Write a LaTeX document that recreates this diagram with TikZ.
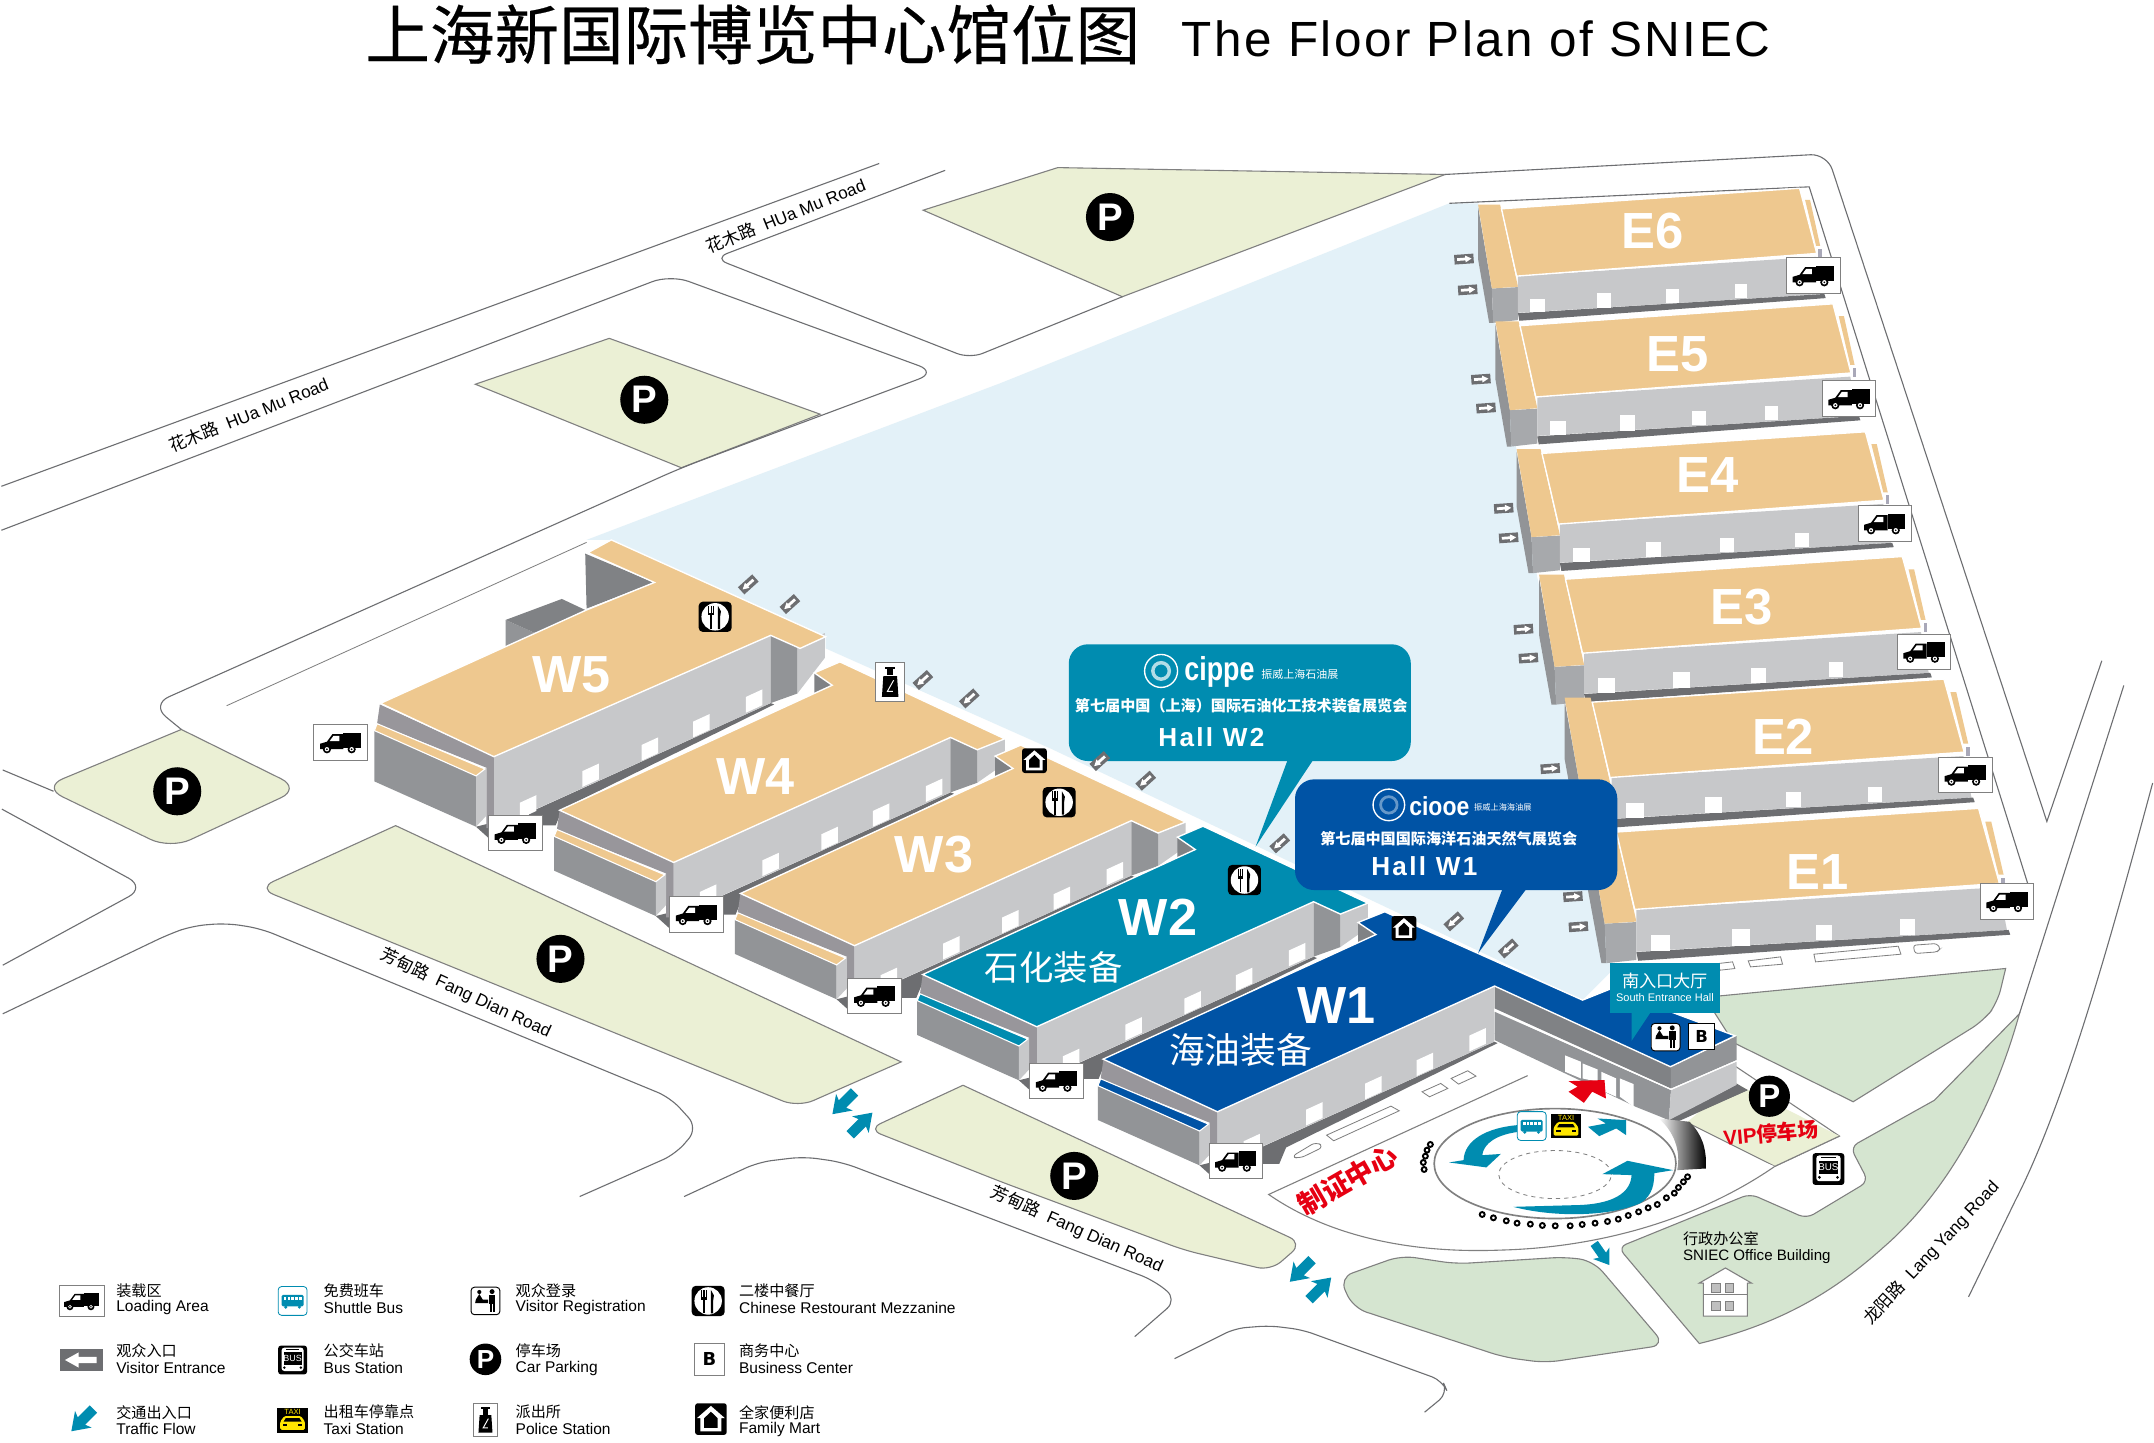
\documentclass[tikz,border=0pt]{standalone}
\usepackage{fontspec}
\usepackage{xcolor}
\usetikzlibrary{positioning, shapes.geometric, calc}
\setmainfont{Liberation Sans}
\newfontfamily\cjk{Noto Sans CJK SC}
\newfontfamily\cjktitle[FakeBold=.35]{Noto Sans CJK SC}
\newfontfamily\heavy{DejaVu Sans}
\newfontfamily\spaced[LetterSpace=5]{Liberation Sans}
\newfontfamily\hallspaced[LetterSpace=9]{Liberation Sans}
\newcommand{\fsz}[1]{\fontsize{#1}{#1}\selectfont}

\definecolor{roofsand}{HTML}{EEC88F}
\definecolor{wallgray}{HTML}{C7C8CA}
\definecolor{walldark}{HTML}{929497}
\definecolor{bandgray}{HTML}{98969B}
\definecolor{endgray}{HTML}{A7A9AC}
\definecolor{tickgray}{HTML}{A9A8B8}
\definecolor{notchgray}{HTML}{808285}
\definecolor{shadowgray}{HTML}{6D6E71}
\definecolor{courtblue}{HTML}{E3F1F8}
\definecolor{parkgreen}{HTML}{EBF0D5}
\definecolor{lawngreen}{HTML}{D5E5D0}
\definecolor{hallteal}{HTML}{008CB0}
\definecolor{hallblue}{HTML}{0053A5}
\definecolor{roadgray}{HTML}{6D6E71}
\definecolor{signred}{HTML}{E60012}
\definecolor{taxiyellow}{HTML}{FFE600}

\tikzset{
    roadline/.style={draw=roadgray, line width=.8pt},
    parkarea/.style={fill=parkgreen, draw=gray, line width=.8pt},
    lawnarea/.style={fill=lawngreen, draw=gray, line width=.8pt},
    roofline/.style={draw=white, line width=1pt},
    slotline/.style={draw=gray, fill=white, line width=.6pt},
    truckbox/.style={draw=gray, fill=white, line width=.6pt, minimum width=39pt, minimum height=26pt},
    pmark/.style={circle, fill=black, text=white, font=\bfseries\fsz{28}},
    halllabel/.style={text=white, font=\bfseries\fsz{38}},
    roadlabel/.style={font=\fsz{12.5}},
    zthree/.style={shift={(873.6,691.6)}, x=.302pt, y=-.2427pt},
    zten/.style={shift={(1201,415)}, x=.2427pt, y=-.2427pt},
    truckglyph/.pic={
        \fill (2,-7) rectangle (15,4);
        \fill (-15,1) -- (-10,-.5) -- (-6,-6) -- (2,-6) -- (2,5) -- (-15,5) -- cycle;
        \fill[white] (-5.2,-4.8) -- (-1,-4.8) -- (-1,-1) -- (-8,-1) -- cycle;
        \foreach \wx in {-10,8} {
            \fill[black] (\wx,5) circle[radius=3pt];
            \fill[white] (\wx,5) circle[radius=1.6pt];
            \fill[black] (\wx,5) circle[radius=.7pt];
        }
    },
    restglyph/.pic={
        \fill[black, rounded corners=3pt] (-12,-11) rectangle (12,11);
        \fill[white] (0,0) circle[radius=10pt];
        \fill[black] (-5,-8) rectangle (-4.2,-2);
        \fill[black] (-3.4,-8) rectangle (-2.6,-2);
        \fill[black] (-1.8,-8) rectangle (-1,-2);
        \fill[black] (-5,-3) rectangle (-1,-1);
        \fill[black] (-3.6,-2) rectangle (-2.4,9);
        \fill[black] (2,-8) -- (4.2,-4) -- (3.6,0) -- (3.6,9) -- (2,9) -- cycle;
    },
    homeglyph/.pic={
        \fill[black, rounded corners=2pt] (-9,-9) rectangle (9,9);
        \fill[white] (0,-7.5) -- (8,-.5) -- (6,-.5) -- (6,7) -- (-6,7) -- (-6,-.5) -- (-8,-.5) -- cycle;
        \fill[black] (-3.8,-.5) -- (0,-4.2) -- (3.8,-.5) -- (3.8,5) -- (-3.8,5) -- cycle;
    },
    policeglyph/.pic={
        \filldraw[fill=white, draw=gray, line width=.6pt] (-10.5,-14.3) rectangle (10.5,14.3);
        \fill[black] (-3.5,-11) rectangle (3.5,-9.5);
        \fill[black] (-2.4,-9) rectangle (2.4,-4.5);
        \fill[black] (-5,-4) -- (5,-4) -- (6,11) -- (-6,11) -- cycle;
        \draw[white, line width=.7pt] (2.5,-1) -- (-2,7) -- (2,7);
    },
    regglyph/.pic={
        \filldraw[fill=white, draw=black, line width=.7pt, rounded corners=2.5pt] (-10.5,-10) rectangle (10.5,10);
        \fill[black] (-7,-1) -- (-4.5,-5) -- (-2,-1) -- (2,-1) -- (2,1.5) -- (-7.5,1.5) -- cycle;
        \fill[black] (-4.5,-6.5) circle[radius=1.5pt];
        \fill[black] (4.8,-6.8) circle[radius=1.8pt];
        \fill[black] (2.5,-4.5) rectangle (7.2,2);
        \fill[black] (3,2) rectangle (4.6,8);
        \fill[black] (5.2,2) rectangle (6.8,8);
    },
    busglyph/.pic={
        \fill[black, rounded corners=2pt] (-10.5,-10.5) rectangle (10.5,10.5);
        \fill[white, rounded corners=2pt] (-8,-9) rectangle (8,8);
        \fill[black] (-6.5,-5.5) rectangle (6.5,3.5);
        \fill[black] (-5,-8) rectangle (5,-7);
        \node[text=white, font=\fsz{6.5}, transform shape] (busword) at (0,-1) {BUS};
        \fill[black] (-6,5.5) circle[radius=1pt];
        \fill[black] (6,5.5) circle[radius=1pt];
    },
    shuttleglyph/.pic={
        \filldraw[fill=white, draw=hallteal, line width=.6pt, rounded corners=2.5pt] (-10.5,-10.5) rectangle (10.5,10.5);
        \fill[hallteal, rounded corners=1pt] (-8,-4.5) rectangle (8,4);
        \foreach \wx in {-6.5,-3.7,-.9,1.9,4.7} {
            \fill[white] (\wx,-3.2) rectangle ++(2,2.4);
        }
        \fill[hallteal] (-5,4.5) circle[radius=1.2pt];
        \fill[hallteal] (5,4.5) circle[radius=1.2pt];
    },
    taxiglyph/.pic={
        \fill[black] (-11,-9) rectangle (11,9);
        \node[text=taxiyellow, font=\fsz{5.5}, transform shape] (taxiword) at (0,-5.8) {TAXI};
        \fill[taxiyellow, rounded corners=1pt] (-9,7) -- (-9,1) -- (-6,-3) -- (6,-3) -- (9,1) -- (9,7) -- cycle;
        \fill[black] (-5,-1.5) -- (5,-1.5) -- (6.5,1) -- (-6.5,1) -- cycle;
        \fill[black] (-7,3) rectangle (-4,4.5);
        \fill[black] (4,3) rectangle (7,4.5);
    },
    gatearrow/.pic={
        \fill[shadowgray] (-7,-3.5) rectangle (7,3.5);
        \fill[white] (-5,-1) -- (1,-1) -- (1,-2.5) -- (5.5,0) -- (1,2.5) -- (1,1) -- (-5,1) -- cycle;
    },
    trafficarrow/.pic={
        \fill[hallteal] (-12,-4) -- (1,-4) -- (-1,-9) -- (12,0) -- (-1,9) -- (1,4) -- (-12,4) -- cycle;
    },
}

% one east hall, drawn in the frame of E6
\newcommand{\easthall}[4]{
    \begin{scope}[shift={(#1,#2)}, xscale=#3, yscale=#4]
        \fill[walldark] (-28,-50) -- (-18,9) -- (-17,34) -- (-20,34) -- (-28,-12) -- cycle;
        \fill[endgray] (-18,9) -- (1,8) -- (1,32) -- (-17,34) -- cycle;
        \fill[roofsand] (-28,-52) -- (-12,-52) -- (1,7.7) -- (-18,9) -- cycle;
        \fill[wallgray] (1,0) -- (218,-14) -- (223,13) -- (1,26.7) -- cycle;
        \fill[shadowgray] (1,27) -- (224,13) -- (225,16) -- (2,32.5) -- cycle;
        \fill[white] (10,16.5) rectangle (21,26.3);
        \fill[white] (58.5,12.6) rectangle (69,23);
        \fill[white] (108.5,9.7) rectangle (118,19.4);
        \fill[white] (159,6) rectangle (168,16);
        \filldraw[fill=roofsand, roofline] (-11,-49) -- (206,-64) -- (218.5,-16.5) -- (0,0) -- cycle;
        \fill[roofsand] (210,-55.5) -- (213.6,-55.5) -- (221,-22) -- (218,-22) -- cycle;
        \fill[tickgray] (219.7,-20) rectangle (222,-14);
    \end{scope}
}

% front and long side of a west hall; S corner at #1,#2, wall height #3, strip colour #4
\newcommand{\westfront}[4]{
    \begin{scope}[shift={(#1,#2)}]
        \fill[shadowgray] (25,#3-11) -- (201.5,-91+#3) -- (204,-90+#3) -- (50,#3-14) -- (45,#3-2) -- (30,#3-2) -- cycle;
        \fill[shadowgray] (-13,#3-1) -- (-5,#3-3) -- (0,#3-6) -- (26,#3-8) -- (30,#3-2) -- (10,#3+8) -- (-3,#3+8) -- cycle;
        \fill[wallgray] (0,0) -- (201.5,-91) -- (201.5,-91+#3) -- (0,#3) -- cycle;
        \foreach \dx/\dy in {25/-14, 70.5/-37, 113.5/-56, 151/-73, 189.5/-91} {
            \fill[white] (\dx-6,\dy+#3+7) -- (\dx+6,\dy+#3+1.5) -- (\dx+6,\dy+#3-10) -- (\dx-6,\dy+#3-4.5) -- cycle;
        }
        \fill[bandgray] (-83,-38) -- (0,0) -- (0,#3) -- (-5.5,#3) -- (-5.5,8) -- (-85,-24) -- cycle;
        \fill[walldark] (-87,-19) -- (-13,14) -- (-13,#3-1) -- (-87,#3-34) -- cycle;
        \fill[wallgray] (-13,14) -- (-5.5,8) -- (-5.5,#3-9) -- (-13,#3-1) -- cycle;
        \filldraw[fill=#4, draw=white, line width=.8pt] (-85,-24) -- (-6.5,9) -- (-13,14) -- (-87,-19) -- cycle;
    \end{scope}
}

% back end of a west hall, with its stepped wing
\newcommand{\westback}[3]{
    \begin{scope}[shift={(#1,#2)}]
        \fill[wallgray] (221,-82) -- (241,-90) -- (241,-72) -- (221,-98+#3) -- cycle;
        \fill[walldark] (201.5,-91) -- (221,-82) -- (221,-98+#3) -- (201.5,-91+#3) -- cycle;
    \end{scope}
}

% standard roof with the small notch at its north end
\newcommand{\westroof}[3]{
    \begin{scope}[shift={(#1,#2)}]
        \fill[notchgray] (102.4,-138) -- (115.4,-129) -- (102.4,-122) -- cycle;
        \filldraw[fill=#3, roofline] (0,0) -- (201.5,-91) -- (221,-82) -- (241,-90) -- (121,-146) -- (102.4,-138) -- (115.4,-129) -- (-83,-38) -- cycle;
    \end{scope}
}

\newcommand{\truckat}[3]{
    \node[truckbox] (#1) at (#2,#3) {};
    \pic at (#1) {truckglyph};
}

\newcommand{\legendtext}[5]{
    \node[anchor=west, font=\cjk\fsz{11}] (#1cn) at (#2,#3) {#4};
    \node[anchor=west, font=\fsz{11.3}] (#1en) at (#2,#3+12.5) {#5};
}

\begin{document}
\begin{tikzpicture}[x=1pt, y=-1pt, every node/.style={inner sep=0pt}]
    \useasboundingbox (0,0) rectangle (1568,1050.4);
    \fill[white] (0,0) rectangle (1568,1050.4);

    % title
    \node[font=\cjktitle\fsz{47}] (titlecn) at (548,25) {上海新国际博览中心馆位图};
    \node[anchor=west, font=\spaced\fsz{36}] (titleen) at (860,28) {The Floor Plan of SNIEC};

    % courtyard
    \fill[courtblue] (445,393) -- (427,393) -- (469,377) -- (728,279) -- (1055,148) -- (1076,148) -- (1088,235) -- (1104,328) -- (1119,420) -- (1139,515) -- (1162,605) -- (1175,705) -- (1152,728) -- (765,545) -- (601,472) -- (601,463) -- cycle;

    % lawns and parking
    \filldraw[parkarea] (672,153) -- (770,122) -- (1052,127) -- (817,216) -- cycle;
    \filldraw[parkarea] (443.5,246.3) -- (597,301.5) -- (496,340.5) -- (346,279.7) -- cycle;
    \filldraw[parkarea] (132,531) [rounded corners=16pt] -- (219,574) -- (124,618) -- (31,573) [sharp corners] -- cycle;
    \filldraw[parkarea] (288,601) -- (656,773) [rounded corners=12pt] -- (581,806) -- (188,646.6) [sharp corners] -- cycle;
    \filldraw[parkarea] (701,790) [rounded corners=10pt] -- (948,905) -- (925,925) -- (862,910) -- (728,860) -- (632,822) [sharp corners] -- cycle;
    \filldraw[lawnarea, rounded corners=10pt] (1060,920) -- (1020,914) -- (975,930) -- (985,952) -- (1095,988) -- (1125,992) -- (1212,979) -- (1160,918) -- (1140,915) -- cycle;
    \filldraw[lawnarea] (1241,726) -- (1460,705) [rounded corners=10pt] -- (1454,730) -- (1444,743) [sharp corners] -- (1349,802) -- (1262,759) -- cycle;
    \filldraw[lawnarea] (1470,738) .. controls (1450,810) and (1415,870) .. (1371,908) .. controls (1330,945) and (1290,965) .. (1237,978) [rounded corners=6pt] -- (1178,908) -- (1274,869) -- (1315,887) -- (1360,860) -- (1347,835) [sharp corners] -- (1408,801) -- cycle;

    % roads
    \draw[roadline] (1,354) -- (640,119);
    \draw[roadline, rounded corners=14pt] (1,386) -- (488,200) -- (682,271) -- (496,340.5) -- (110,513) -- (132,531);
    \draw[roadline, rounded corners=10pt] (688,124) -- (520,188) -- (706,261) -- (817,216);
    \draw[gray, line width=.6pt] (165,513.7) -- (427,394.8);
    \draw[roadline] (2,560.5) -- (39,576);
    \draw[roadline, rounded corners=14pt] (1.4,589) -- (106,646) -- (2,702.6);
    \draw[roadline, rounded corners=10pt] (2,738) -- (123,680) -- (140,674) -- (165,672) -- (190,676) -- (488,799) -- (508,821) -- (492,840) -- (422,871);
    \draw[roadline, rounded corners=10pt] (498,871) -- (552,846) -- (585,842) -- (613,846) -- (840,932) -- (857,946) -- (826,973);
    \draw[roadline, rounded corners=8pt] (855,989) -- (899,967) -- (924,965) -- (948,968) -- (1050,1005) -- (1054,1014) -- (1037,1028);
    \draw[roadline] (1052,127) [rounded corners=12pt] -- (1330,112) [sharp corners] -- (1490,598) -- (1530,481);
    \draw[roadline] (1055,148) -- (1317,136) -- (1476,643);
    \draw[roadline] (1546,499) -- (1470,738);
    \draw[roadline] (1567,570) .. controls (1540,670) and (1505,800) .. (1467,874) -- (1433,944);
    \draw[gray, line width=.8pt] (1263,776) -- (1339,827) -- (1292,849);

    % VIP parking and plaza
    \fill[parkgreen] (1228,817) -- (1262,788) -- (1339,827) -- (1292,849) -- cycle;
    \draw[gray, line width=.8pt] (1339,827) -- (1292,849) -- (1228,817);
    \filldraw[fill=white, draw=gray, line width=.8pt] (1112,783) -- (923.5,869.5) .. controls (975,905) and (1040,912) .. (1092,910) .. controls (1170,908) and (1240,885) .. (1292,849);

    % west halls
    \fill[notchgray] (426,403) -- (476,424) -- (427,443) -- cycle;
    \fill[walldark] (368,451.3) -- (390,461) -- (368,470.7) -- cycle;
    \fill[notchgray] (368,451.3) -- (409,436) -- (426,444) -- (390,461) -- cycle;
    \westfront{359.5}{550.8}{52}{roofsand}
    \westback{359.5}{550.8}{52}
    \filldraw[fill=roofsand, roofline] (277,512) -- (359.5,550.8) -- (561,462.5) -- (582.4,472) -- (601,463.5) -- (445,393) -- (428,402.3) -- (476.4,424) -- (427,444) -- cycle;
    \westfront{490.4}{627.8}{40}{roofsand}
    \westback{490.4}{627.8}{40}
    \westroof{490.4}{627.8}{roofsand}
    \westfront{622}{688.4}{40}{roofsand}
    \westback{622}{688.4}{40}
    \westroof{622}{688.4}{roofsand}
    \westfront{754.7}{747.4}{40}{hallteal}
    \westback{754.7}{747.4}{40}
    \westroof{754.7}{747.4}{hallteal}
    \westfront{886.2}{809.3}{40}{hallblue}
    \fill[notchgray] (988.6,671.3) -- (1001.6,680.3) -- (988.6,687.3) -- cycle;

    % south entrance building
    \begin{scope}[zthree]
        \fill[shadowgray] (745,270) -- (1130,510) -- (1145,518) -- (1320,420) -- (1293,400) -- (1135,500) -- (710,250) -- cycle;
        \fill[walldark] (710,185) -- (1135,420) -- (1130,510) -- (1050,470) -- (710,270) -- cycle;
        \fill[notchgray] (710,108) -- (1135,350) -- (1135,415) -- (710,175) -- cycle;
        \draw[white, line width=.8pt] (710,180) -- (1135,418);
        \fill[walldark] (1135,350) -- (1293,258) -- (1293,330) -- (1135,415) -- cycle;
        \fill[wallgray] (1135,420) -- (1293,335) -- (1293,405) -- (1130,510) -- cycle;
        \draw[white, line width=.8pt] (1135,418) -- (1293,332);
        \fill[white] (880,316) -- (918,335) -- (918,385) -- (880,365) -- cycle;
        \fill[white] (922,340) -- (958,358) -- (958,395) -- (922,385) -- cycle;
        \fill[white] (967,365) -- (1003,385) -- (1003,440) -- (967,420) -- cycle;
        \fill[white] (1012,385) -- (1045,402) -- (1045,470) -- (1012,440) -- cycle;
        \fill[shadowgray] (1130,515) -- (1293,405) -- (1320,420) -- (1145,515) -- cycle;
        \shade[left color=white, right color=black] (1105,505) -- (1180,515) .. controls (1210,555) and (1220,590) .. (1220,655) -- (1150,660) .. controls (1160,600) and (1140,540) .. (1105,505) -- cycle;
    \end{scope}
    \filldraw[fill=hallblue, roofline] (886.2,809.3) -- (803,771) -- (1001.6,680.3) -- (988.6,671.5) -- (1008,663.7) -- (1152,728) -- (1172,720) -- (1263,754) -- (1216,776.5) -- (1088,717.8) -- cycle;

    % east halls
    \easthall{1104}{201}{1}{1}
    \easthall{1118}{289}{1.05}{1.06}
    \easthall{1134.4}{381.5}{1.085}{1.05}
    \easthall{1152}{475.5}{1.13}{1.1}
    \easthall{1172}{566}{1.18}{1.12}
    \easthall{1190}{662}{1.215}{1.15}

    % plaza slots
    \begin{scope}[zthree]
        \draw[slotline, rounded corners=4pt] (220,620) -- (280,575) -- (298,590) -- (240,625) -- cycle;
        \draw[slotline] (305,555) -- (460,468) -- (480,482) -- (322,572) -- cycle;
        \draw[slotline] (535,425) -- (580,400) -- (597,415) -- (553,440) -- cycle;
        \draw[slotline] (605,385) -- (645,362) -- (665,378) -- (623,402) -- cycle;
    \end{scope}
    \begin{scope}[zten]
        \draw[slotline] (205,1180) -- (248,1175) -- (255,1195) -- (210,1200) -- cycle;
        \draw[slotline] (295,1172) -- (392,1160) -- (398,1182) -- (302,1190) -- cycle;
        \draw[slotline] (492,1152) -- (745,1128) -- (753,1152) -- (497,1175) -- cycle;
        \draw[slotline, rounded corners=2pt] (790,1125) -- (860,1120) -- (872,1135) -- (862,1145) -- (795,1150) -- cycle;
    \end{scope}

    % roundabout
    \node[ellipse, draw=gray, fill=white, line width=1.2pt, minimum width=176pt, minimum height=80pt] (ringouter) at (1132,847) {};
    \node[ellipse, draw=gray, dashed, line width=.6pt, minimum width=82pt, minimum height=35pt] (ringinner) at (1132,855) {};
    \fill[hallteal] (1101.6,878.5) .. controls (1130,886) and (1170,886) .. (1193.7,876) .. controls (1204,870) and (1204,860) .. (1204.3,854) -- (1217.9,851.8) -- (1184.7,845) -- (1166.5,854.7) -- (1187.7,855.4) .. controls (1187,868) and (1175,877) .. (1145.4,877.3) -- cycle;
    \fill[hallteal] (1104.6,819) .. controls (1082,821) and (1066,830) .. (1065.4,844.5) -- (1054.8,846.2) -- (1082,849.8) -- (1092.5,840) -- (1079,840.9) .. controls (1080,832) and (1090,826) .. (1104.6,824) -- cycle;
    \begin{scope}[zthree]
        \fill[hallteal] (935,530) -- (978,520) -- (958,505) -- (1027,510) -- (1027,555) -- (1003,535) -- (962,558) -- cycle;
    \end{scope}
    \fill[signred] (1141.8,787) -- (1168,786.2) -- (1169,799.6) -- (1159,794.7) -- (1153,802.8) -- (1141.8,794.7) -- (1148.4,791) -- cycle;

    % tyre barriers
    \begin{scope}[zthree]
        \foreach \tx/\ty in {680/793,707/803,738/812,764/819,796/822,825/826,856/827,892/827,921/823,952/819,982/814,1008/807,1032/796,1057/785,1080/773,1102/763,1124/743,1143/729,1153/712,1165/695,1175/680,555/583,547/600,543/618,538/637,540/658} {
            \filldraw[fill=white, draw=black, line width=1.4pt] (\tx,\ty) circle[radius=1.8pt];
        }
    \end{scope}

    % hall names
    \node[halllabel] (labelwfive) at (416,491) {W5};
    \node[halllabel] (labelwfour) at (550,565) {W4};
    \node[halllabel] (labelwthree) at (680,622) {W3};
    \node[halllabel] (labelwtwo) at (843,668) {W2};
    \node[halllabel] (labelwone) at (973,732) {W1};
    \node[halllabel, font=\bfseries\fsz{37}] (labeleesix) at (1203,168) {E6};
    \node[halllabel, font=\bfseries\fsz{37}] (labeleefive) at (1221,258) {E5};
    \node[halllabel, font=\bfseries\fsz{37}] (labeleefour) at (1243,346) {E4};
    \node[halllabel, font=\bfseries\fsz{37}] (labeleethree) at (1268,442) {E3};
    \node[halllabel, font=\bfseries\fsz{37}] (labeleetwo) at (1298,536) {E2};
    \node[halllabel, font=\bfseries\fsz{37}] (labeleeone) at (1323,635) {E1};
    \node[text=white, font=\cjk\fsz{25}] (labelpetro) at (767,704) {石化装备};
    \node[text=white, font=\cjk\fsz{26}] (labeloil) at (903,764) {海油装备};

    % road names
    \node[roadlabel, rotate=22] (huamuwest) at (181,302) {{\cjk 花木路}\ \ HUa Mu Road};
    \node[roadlabel, rotate=22] (huamueast) at (572,157) {{\cjk 花木路}\ \ HUa Mu Road};
    \node[roadlabel, rotate=-25] (fangdianwest) at (339,723) {{\cjk 芳甸路}\ \ Fang Dian Road};
    \node[roadlabel, rotate=-24] (fangdianeast) at (784,895) {{\cjk 芳甸路}\ \ Fang Dian Road};
    \node[roadlabel, rotate=47] (langyang) at (1406,912) {{\cjk 龙阳路}\ \ Lang Yang Road};

    % red signs
    \node[text=signred, rotate=30, font=\cjk\bfseries\fsz{20}] (certcentre) at (981,859) {制证中心};
    \node[text=signred, rotate=5, font=\bfseries\fsz{15}] (vippark) at (1289,825) {VIP{\cjk\bfseries 停车场}};

    % office building
    \node[anchor=west, font=\cjk\fsz{11}] (officecn) at (1225,902) {行政办公室};
    \node[anchor=west, font=\fsz{11}] (officeen) at (1225,915) {SNIEC Office Building};
    \filldraw[fill=white, draw=gray, line width=.8pt] (1240,958) -- (1240,934) -- (1237,934) -- (1256,923) -- (1275,934) -- (1272,934) -- (1272,958) -- cycle;
    \draw[gray, line width=.6pt] (1240,942) -- (1272,942);
    \foreach \wx/\wy in {1246/934,1256/934,1246/947,1256/947} {
        \filldraw[fill=gray!50, draw=gray, line width=.3pt] (\wx,\wy) rectangle ++(6,7);
    }

    % parking marks
    \node[pmark, minimum size=35pt] (parktop) at (808,158) {P};
    \node[pmark, minimum size=35pt] (parkmid) at (469,291) {P};
    \node[pmark, minimum size=35pt] (parkleft) at (129,576) {P};
    \node[pmark, minimum size=35pt] (parkfang) at (408,698) {P};
    \node[pmark, minimum size=35pt] (parklow) at (782,856) {P};
    \node[pmark, minimum size=30pt, font=\bfseries\fsz{24}] (parkvip) at (1288,798) {P};

    % loading areas
    \truckat{truckwfiveside}{248}{540.4}
    \truckat{truckwfive}{375}{606.4}
    \truckat{truckwfour}{507}{665.5}
    \truckat{truckwthree}{636.7}{725}
    \truckat{truckwtwo}{769}{786.8}
    \truckat{truckwone}{899.6}{845}
    \truckat{truckesix}{1320}{200.5}
    \truckat{truckefive}{1346}{290}
    \truckat{truckefour}{1372}{381}
    \truckat{truckethree}{1400.5}{474.5}
    \truckat{truckeetwo}{1430.5}{564}
    \truckat{truckeeone}{1461}{656}

    % east entrances
    \foreach \ax/\ay in {1065.7/188.6,1068.4/211,1078/276,1081.7/297,1094.6/370,1098.2/391.5,1109/458,1112.6/479,1128.5/559.5,1131.5/581,1145/652.7,1149/674.6} {
        \pic[rotate=4] at (\ax,\ay) {gatearrow};
    }

    % traffic arrows
    \pic[rotate=225, scale=.95] at (614,803) {trafficarrow};
    \pic[rotate=45, scale=.95] at (627,818) {trafficarrow};
    \pic[rotate=225, scale=.95] at (947,925) {trafficarrow};
    \pic[rotate=45, scale=.95] at (961,938) {trafficarrow};
    \pic[rotate=-55, scale=.8] at (1166,913) {trafficarrow};

    % facilities
    \pic at (520.6,449) {restglyph};
    \pic at (771,584) {restglyph};
    \pic at (905.9,640.6) {restglyph};
    \pic at (753,553.7) {homeglyph};
    \pic at (1022,675.8) {homeglyph};
    \pic at (648,496.2) {policeglyph};
    \pic at (1212.5,755) {regglyph};
    \node[draw=black, fill=white, line width=.6pt, minimum width=19pt, minimum height=19pt, font=\heavy\bfseries\fsz{12}] (busicentre) at (1238.7,754.5) {B};
    \pic at (1115,819.7) {shuttleglyph};
    \pic at (1140,819.7) {taxiglyph};
    \pic[scale=1.1] at (1331,851) {busglyph};

    % hall W2 callout
    \fill[hallteal] (938.5,550) -- (958,550) -- (914,616.3) -- cycle;
    \node[fill=hallteal, rounded corners=14pt, minimum width=249pt, minimum height=85pt] (calloutwtwo) at (902.5,511.5) {};
    \filldraw[fill=hallteal, draw=white, line width=1pt] (845.2,488.4) circle[radius=12pt];
    \draw[white!70!hallteal, line width=2.5pt] (845.2,488.4) circle[radius=6pt];
    \node[anchor=west, text=white, font=\bfseries\fsz{23}] (cippename) at (862,489) {\scalebox{.85}[1.05]{cippe}};
    \node[anchor=west, text=white, font=\cjk\fsz{8}] (cippenote) at (918,490.6) {振威上海石油展};
    \node[text=white, font=\cjk\bfseries\fsz{11}] (cippeline) at (903.5,513.9) {第七届中国（上海）国际石油化工技术装备展览会};
    \node[anchor=west, text=white, font=\hallspaced\bfseries\fsz{19}] (cippehall) at (843,536.7) {Hall W2};

    % hall W1 callout
    \fill[hallblue] (1094.5,645) -- (1112.7,645) -- (1075.9,694) -- cycle;
    \node[fill=hallblue, rounded corners=14pt, minimum width=234.6pt, minimum height=80.6pt] (calloutwone) at (1060,607.6) {};
    \filldraw[fill=hallblue, draw=white, line width=1pt] (1011,585.9) circle[radius=11.5pt];
    \draw[white!40!hallblue, line width=2pt] (1011,585.9) circle[radius=6pt];
    \node[anchor=west, text=white, font=\bfseries\fsz{19}] (ciooename) at (1025.7,586.7) {\scalebox{.88}[1]{ciooe}};
    \node[anchor=west, text=white, font=\cjk\fsz{6}] (ciooenote) at (1072.8,587.7) {振威上海海油展};
    \node[text=white, font=\cjk\bfseries\fsz{11}] (ciooeline) at (1054.6,610.8) {第七届中国国际海洋石油天然气展览会};
    \node[anchor=west, text=white, font=\hallspaced\bfseries\fsz{19}] (ciooehall) at (998,630.4) {Hall W1};

    % west entrances sit over the callouts
    \foreach \ax/\ay in {544.7/425.4,575/439.7,671.8/495,705.6/508.4,800.6/554,834/568.3,931.6/613.9,1058.3/670.7,1097.9/690.4} {
        \pic[rotate=222] at (\ax,\ay) {gatearrow};
    }

    % south entrance hall tag
    \fill[hallteal] (1187.7,735) -- (1202.8,735) -- (1187.7,757.6) -- cycle;
    \node[fill=hallteal, minimum width=79.4pt, minimum height=36pt] (southtag) at (1212,719.2) {};
    \node[text=white, font=\cjk\fsz{12.5}] (southcn) at (1212,714) {南入口大厅};
    \node[text=white, font=\fsz{8}] (southen) at (1212,726) {South Entrance Hall};

    % legend
    \node[truckbox, minimum width=33pt, minimum height=22.6pt] (legloading) at (59.4,947) {};
    \pic[scale=.85] at (legloading) {truckglyph};
    \pic[rotate=180, scale=2.2] at (59.4,990) {gatearrow};
    \pic[rotate=225, scale=.95] at (60,1033.8) {trafficarrow};
    \pic at (213,947) {shuttleglyph};
    \pic at (213,990) {busglyph};
    \pic at (213,1033.8) {taxiglyph};
    \pic at (353.4,947) {regglyph};
    \node[pmark, minimum size=23pt, font=\bfseries\fsz{19}] (legpark) at (353.4,989.5) {P};
    \pic[scale=.85] at (353.4,1033.5) {policeglyph};
    \pic at (515.5,947) {restglyph};
    \node[draw=gray, fill=white, line width=.6pt, minimum width=22pt, minimum height=22.8pt, font=\heavy\bfseries\fsz{13}] (legbusiness) at (516.5,989.5) {B};
    \pic[scale=1.28] at (517.5,1033) {homeglyph};
    \legendtext{legone}{84.5}{939.5}{装载区}{Loading Area}
    \legendtext{legtwo}{84.5}{983.5}{观众入口}{Visitor Entrance}
    \legendtext{legthree}{84.5}{1028}{交通出入口}{Traffic Flow}
    \legendtext{legfour}{235.4}{939.5}{免费班车}{Shuttle Bus}
    \legendtext{legfive}{235.4}{983.5}{公交车站}{Bus Station}
    \legendtext{legsix}{235.4}{1028}{出租车停靠点}{Taxi Station}
    \legendtext{legseven}{375.2}{939.5}{观众登录}{Visitor Registration}
    \legendtext{legeight}{375.2}{983.5}{停车场}{Car Parking}
    \legendtext{legnine}{375.2}{1028}{派出所}{Police Station}
    \legendtext{legten}{537.8}{939.5}{二楼中餐厅}{Chinese Restourant Mezzanine}
    \legendtext{legeleven}{537.8}{983.5}{商务中心}{Business Center}
    \legendtext{legtwelve}{537.8}{1028}{全家便利店}{Family Mart}
\end{tikzpicture}
\end{document}
